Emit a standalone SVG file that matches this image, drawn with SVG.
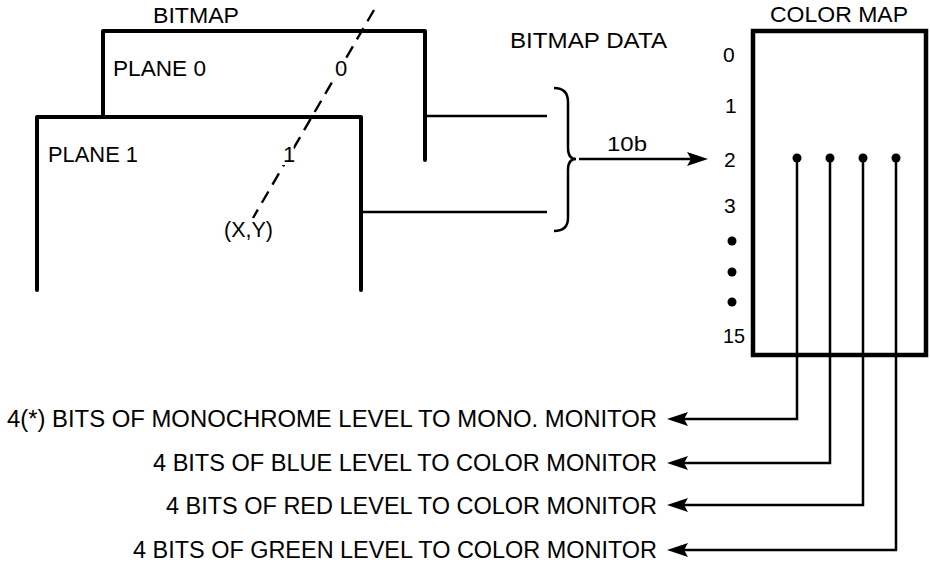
<svg xmlns="http://www.w3.org/2000/svg" width="930" height="565" viewBox="0 0 930 565">
<style>
.box{fill:none;stroke:#000;stroke-width:4;stroke-linejoin:round;stroke-linecap:round}
.cm{fill:none;stroke:#000;stroke-width:4.5;stroke-linejoin:miter}
.ln{fill:none;stroke:#000;stroke-width:2.5}
.t{font-family:"Liberation Sans",Arial,sans-serif;font-size:22px;fill:#000}
.n{font-family:"Liberation Sans",Arial,sans-serif;font-size:21px;fill:#000}
.b{font-family:"Liberation Sans",Arial,sans-serif;font-size:23.5px;fill:#000}
.halo{paint-order:stroke;stroke:#fff;stroke-width:6}
.dash{fill:none;stroke:#000;stroke-width:2.4;stroke-dasharray:13 8}
</style>
<defs>
<marker id="ah" markerUnits="userSpaceOnUse" markerWidth="26" markerHeight="18" refX="15" refY="7.5" orient="auto">
<path d="M0,0.5 L21,7.5 L0,14.5 L4,7.5 z" fill="#000"/>
</marker>
</defs>
<rect width="930" height="565" fill="#fff"/>

<g id="plane0">
<path class="box" d="M103,117 L103,31 L425,31 L425,160"/>
<text class="t" x="113" y="76" textLength="93" lengthAdjust="spacingAndGlyphs">PLANE 0</text>
</g>
<g id="bitmap-title">
<text class="t" x="153" y="23" textLength="86" lengthAdjust="spacingAndGlyphs">BITMAP</text>
</g>
<g id="plane1">
<path class="box" d="M37,290 L37,117 L361,117 L361,290"/>
<text class="t" x="48" y="162" textLength="90" lengthAdjust="spacingAndGlyphs">PLANE 1</text>
</g>
<g id="pixel">
<line class="dash" x1="374" y1="10" x2="253" y2="218"/>
<text class="t halo" x="335" y="76">0</text>
<text class="t halo" x="283" y="162">1</text>
<text class="t" x="224" y="237" textLength="49" lengthAdjust="spacingAndGlyphs">(X,Y)</text>
</g>

<g id="bitmap-data">
<text class="t" x="510" y="48" textLength="157" lengthAdjust="spacingAndGlyphs">BITMAP DATA</text>
<path class="ln" d="M554,88 C563,88 568,92 568,102 L568,148 C568,155 571,159 576,159 C571,159 568,163 568,170 L568,218 C568,227 563,231 554,231"/>
<text class="n" x="607" y="151" textLength="40" lengthAdjust="spacingAndGlyphs">10b</text>
</g>

<g id="color-map">
<text class="t" x="770" y="22" textLength="138" lengthAdjust="spacingAndGlyphs">COLOR MAP</text>
<rect class="cm" x="753" y="31" width="173" height="324"/>
<text class="n" x="723" y="62">0</text>
<text class="n" x="725" y="113">1</text>
<text class="n" x="724" y="167">2</text>
<text class="n" x="724" y="213">3</text>
<circle cx="732" cy="241" r="4.5"/>
<circle cx="732" cy="272" r="4.5"/>
<circle cx="732" cy="302" r="4.5"/>
<text class="n" x="723" y="343" textLength="22" lengthAdjust="spacingAndGlyphs">15</text>
<circle cx="797" cy="158" r="4.5"/>
<circle cx="830" cy="158" r="4.5"/>
<circle cx="863" cy="158" r="4.5"/>
<circle cx="896" cy="158" r="4.5"/>
</g>

<g id="outputs">
<text class="b" x="657" y="427" text-anchor="end" textLength="650" lengthAdjust="spacingAndGlyphs">4(*) BITS OF MONOCHROME LEVEL TO MONO. MONITOR</text>
<text class="b" x="657" y="471" text-anchor="end" textLength="504" lengthAdjust="spacingAndGlyphs">4 BITS OF BLUE LEVEL TO COLOR MONITOR</text>
<text class="b" x="657" y="514" text-anchor="end" textLength="491" lengthAdjust="spacingAndGlyphs">4 BITS OF RED LEVEL TO COLOR MONITOR</text>
<text class="b" x="657" y="558" text-anchor="end" textLength="524" lengthAdjust="spacingAndGlyphs">4 BITS OF GREEN LEVEL TO COLOR MONITOR</text>
</g>

<g id="connectors">
<line class="ln" x1="425" y1="116" x2="547" y2="116"/>
<line class="ln" x1="361" y1="212" x2="547" y2="212"/>
<line class="ln" x1="579" y1="159" x2="702" y2="159" marker-end="url(#ah)"/>
<path class="ln" d="M797,158 V419 H673" marker-end="url(#ah)"/>
<path class="ln" d="M830,158 V463 H673" marker-end="url(#ah)"/>
<path class="ln" d="M863,158 V505 H673" marker-end="url(#ah)"/>
<path class="ln" d="M896,158 V550 H673" marker-end="url(#ah)"/>
</g>
</svg>
